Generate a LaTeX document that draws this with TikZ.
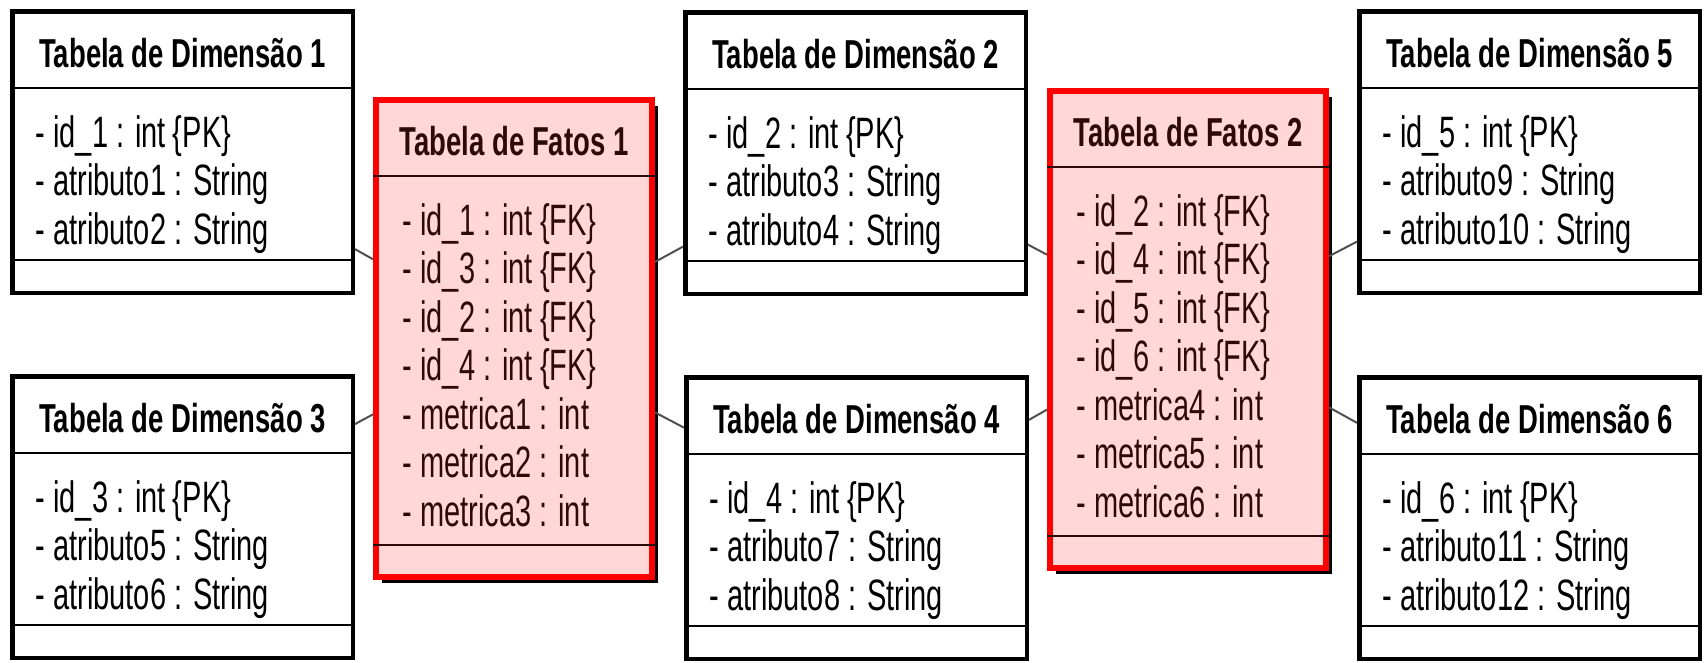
\documentclass[tikz,border=0pt]{standalone}
\usepackage{fontspec}
\setmainfont{Liberation Sans}
\newfontfamily\titlefont{Liberation Sans}[FakeStretch=0.68]
\newfontfamily\bodyfont{Liberation Sans}[FakeStretch=0.66]
\usetikzlibrary{shadows}

\definecolor{factpink}{RGB}{255,215,215}
\definecolor{factred}{RGB}{255,0,0}
\definecolor{facttext}{RGB}{45,10,10}
\definecolor{linkgray}{RGB}{80,80,80}

\tikzset{
  dimbox/.style={draw=black, line width=0.45mm, fill=white, inner sep=0pt,
    minimum width=34.05mm, minimum height=28.15mm},
  factbox/.style={draw=factred, line width=0.6mm, fill=factpink, inner sep=0pt,
    minimum width=27.6mm, minimum height=47.7mm,
    general shadow={fill=black, shadow xshift=0.6mm, shadow yshift=-0.6mm}},
  dimtitle/.style={font=\titlefont\bfseries\fontsize{11.5}{13}\selectfont, inner sep=0pt, anchor=base},
  facttitle/.style={dimtitle, text=facttext},
  dimbody/.style={font=\bodyfont\fontsize{12.5}{14}\selectfont, inner sep=0pt, anchor=base west, xshift=2.5mm},
  factbody/.style={font=\bodyfont\fontsize{12.5}{14}\selectfont, inner sep=0pt, anchor=base west, xshift=2.9mm, text=facttext},
  dimline/.style={draw=black, line width=0.2mm},
  factline/.style={draw=facttext, line width=0.2mm},
  link/.style={draw=linkgray, line width=0.2mm}
}

% #1 name, #2 dim/fact, #3 canto sup. esq., #4 titulo, #5 atributos
\newcommand{\tabela}[5]{%
  \node[#2box, anchor=north west] (#1) at #3 {};
  \draw[#2line] ([yshift=-7.9mm]#1.north west) -- ([yshift=-7.9mm]#1.north east);
  \draw[#2line] ([yshift=3.5mm]#1.south west) -- ([yshift=3.5mm]#1.south east);
  \node[#2title] at ([yshift=-5.8mm]#1.north) {#4};
  \foreach \linha [count=\i] in {#5}
    \node[#2body] at ([yshift={-13.8mm-4.85mm*(\i-1)}]#1.north west) {\linha};
}

\begin{document}
\begin{tikzpicture}[x=0.1mm, y=-0.1mm]
  \useasboundingbox (0,0) rectangle (1705,662);

  \tabela{d1}{dim}{(10,9)}{Tabela de Dimensão 1}{- id\_1 : int\,\{PK\},%
    - atributo1 : String,%
    - atributo2 : String}
  \tabela{d3}{dim}{(10,374)}{Tabela de Dimensão 3}{- id\_3 : int\,\{PK\},%
    - atributo5 : String,%
    - atributo6 : String}
  \tabela{d2}{dim}{(683,10)}{Tabela de Dimensão 2}{- id\_2 : int\,\{PK\},%
    - atributo3 : String,%
    - atributo4 : String}
  \tabela{d4}{dim}{(684,375)}{Tabela de Dimensão 4}{- id\_4 : int\,\{PK\},%
    - atributo7 : String,%
    - atributo8 : String}
  \tabela{d5}{dim}{(1357,9)}{Tabela de Dimensão 5}{- id\_5 : int\,\{PK\},%
    - atributo9 : String,%
    - atributo10 : String}
  \tabela{d6}{dim}{(1357,375)}{Tabela de Dimensão 6}{- id\_6 : int\,\{PK\},%
    - atributo11 : String,%
    - atributo12 : String}

  \tabela{f1}{fact}{(373,97)}{Tabela de Fatos 1}{- id\_1 : int\,\{FK\},%
    - id\_3 : int\,\{FK\},%
    - id\_2 : int\,\{FK\},%
    - id\_4 : int\,\{FK\},%
    - metrica1 : int,%
    - metrica2 : int,%
    - metrica3 : int}
  \tabela{f2}{fact}{(1047,88)}{Tabela de Fatos 2}{- id\_2 : int\,\{FK\},%
    - id\_4 : int\,\{FK\},%
    - id\_5 : int\,\{FK\},%
    - id\_6 : int\,\{FK\},%
    - metrica4 : int,%
    - metrica5 : int,%
    - metrica6 : int}

  \draw[link] (d1) -- (f1);
  \draw[link] (d3) -- (f1);
  \draw[link] (f1) -- (d2);
  \draw[link] (f1) -- (d4);
  \draw[link] (d2) -- (f2);
  \draw[link] (d4) -- (f2);
  \draw[link] (f2) -- (d5);
  \draw[link] (f2) -- (d6);
\end{tikzpicture}
\end{document}
